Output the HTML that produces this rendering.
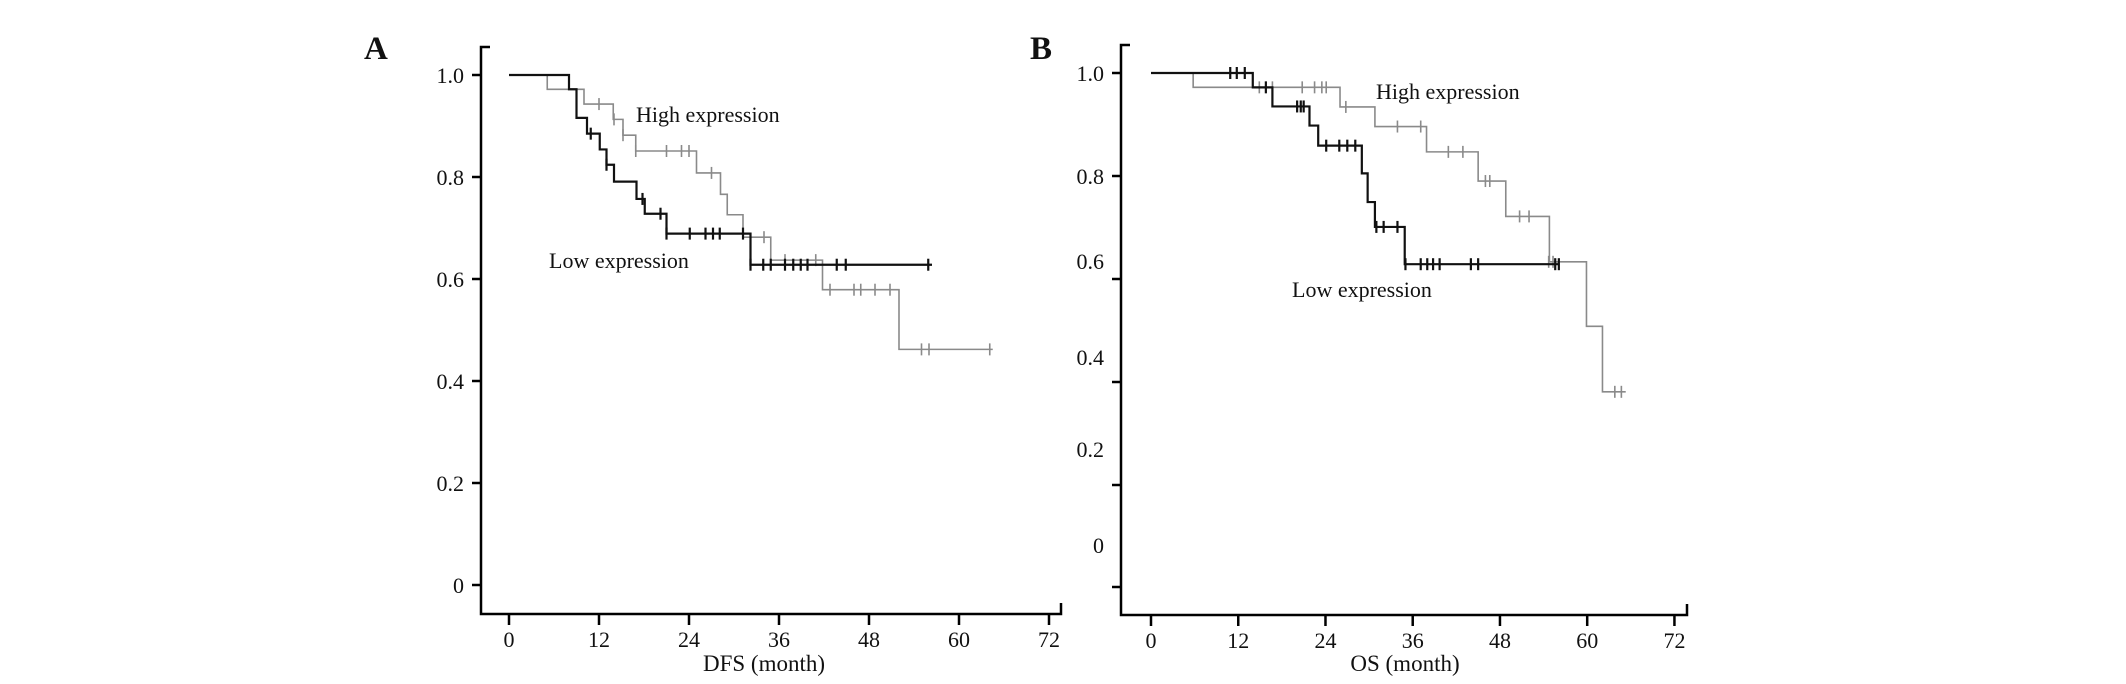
<!DOCTYPE html>
<html><head><meta charset="utf-8"><style>
html,body{margin:0;padding:0;background:#fff;}
svg{display:block;font-family:"Liberation Serif",serif;}
</style></head><body>
<svg id="chart" width="2126" height="684" viewBox="0 0 2126 684"></svg>
<script>
// ---- Panel A (DFS) data ----
const xTicks = [0,12,24,36,48,60,72];
const aYTicks = ["1.0","0.8","0.6","0.4","0.2","0"];
const aHighT = [0,5.1,10,13.9,15.2,16.9,25,28.2,29.1,31.2,34.9,41.8,52,64.5];
const aHighS = [1,0.972,0.943,0.913,0.882,0.851,0.808,0.766,0.726,0.682,0.637,0.579,0.462,0.462];
const aHighCensT = [12,14,15.2,16.9,21,23,24,27,34,36.8,40.9,42.8,46,46.9,48.8,50.8,55,56,64.1];
const aHighCensS = [0.943,0.913,0.882,0.851,0.851,0.851,0.851,0.808,0.682,0.637,0.637,0.579,0.579,0.579,0.579,0.579,0.462,0.462,0.462];
const aLowT = [0,8,9,10.4,12.1,13,14,17,18.1,21,32.2,56.4];
const aLowS = [1,0.972,0.916,0.885,0.854,0.824,0.791,0.757,0.728,0.689,0.628,0.628];
const aLowCensT = [10.9,13,17.8,20.2,21,24.1,26.2,27.2,28.1,31.2,32.2,33.9,34.9,36.8,37.9,38.9,39.8,43.7,44.9,55.9];
const aLowCensS = [0.885,0.824,0.757,0.728,0.689,0.689,0.689,0.689,0.689,0.689,0.628,0.628,0.628,0.628,0.628,0.628,0.628,0.628,0.628,0.628];
// ---- Panel B (OS) data ----
const bYTicks = ["1.0","0.8","0.6","0.4","0.2","0"];
const bHighT = [0,5.8,26,30.8,37.9,45,48.8,54.8,59.9,62.1,65.3];
const bHighS = [1,0.97,0.929,0.888,0.835,0.774,0.70,0.605,0.47,0.333,0.333];
const bHighCensT = [14.9,16.7,20.8,22.5,23.5,24.1,26.8,33.9,37.1,40.9,42.9,46,46.6,50.7,52,54.7,55.3,63.8,64.7];
const bHighCensS = [0.97,0.97,0.97,0.97,0.97,0.97,0.929,0.888,0.888,0.835,0.835,0.774,0.774,0.70,0.70,0.605,0.605,0.333,0.333];
const bLowT = [0,14,16.7,21.8,23,29,29.8,30.8,34.9,56.2];
const bLowS = [1,0.97,0.93,0.89,0.848,0.79,0.73,0.678,0.6,0.6];
const bLowCensT = [10.9,11.8,12.9,15.8,20.1,20.6,21,24.1,25.9,27,28.1,31,32,33.9,35,37.1,38,38.8,39.7,44,45,55.6,56.1];
const bLowCensS = [1,1,1,0.97,0.93,0.93,0.93,0.848,0.848,0.848,0.848,0.678,0.678,0.678,0.6,0.6,0.6,0.6,0.6,0.6,0.6,0.6,0.6];

const NS='http://www.w3.org/2000/svg';
const svg=document.getElementById('chart');
function mk(tag,attrs,parent){const e=document.createElementNS(NS,tag);for(const k in attrs)e.setAttribute(k,attrs[k]);(parent||svg).appendChild(e);return e;}
function txt(s,x,y,size,anchor,weight,parent){const t=mk('text',{x:x,y:y,'font-size':size,'text-anchor':anchor,'font-weight':weight||'normal',fill:'#111'},parent);t.textContent=s;return t;}

function panel(cfg){
  const g=mk('g',{});
  
  
  const X=m=>cfg.x0+m*cfg.xu;
  const Y=v=>cfg.y1+(1-v)*cfg.yu;
  const ax=mk('path',{d:`M${cfg.ax+9} ${cfg.top}H${cfg.ax}V${cfg.bot}H${cfg.right}V${cfg.bot-11}`,fill:'none',stroke:'#000','stroke-width':2.5},g);
  
  
  xTicks.forEach(t=>{
    mk('line',{x1:X(t),x2:X(t),y1:cfg.bot,y2:cfg.bot+11,stroke:'#000','stroke-width':2.5},g);
    const l=txt(String(t),X(t),cfg.bot+33,22,'middle','normal',g);
    
    
  });
  cfg.yTickPos.forEach(p=>mk('line',{x1:cfg.ax-9,x2:cfg.ax,y1:p,y2:p,stroke:'#000','stroke-width':2.5},g));
  cfg.yLabels.forEach((s,i)=>{
    const l=txt(s,cfg.ax-17,cfg.yLabelPos[i]+8,22,'end','normal',g);
    
    
  });
  function series(T,S,CT,CS,color,w,name){
    let d=`M${X(T[0])} ${Y(S[0])}`;
    for(let i=1;i<T.length;i++){d+=`H${X(T[i])}V${Y(S[i])}`;}
    const p=mk('path',{d:d,fill:'none',stroke:color,'stroke-width':w},g);
    
    
    CT.forEach((t,i)=>{
      const c=mk('line',{x1:X(t),x2:X(t),y1:Y(CS[i])-6,y2:Y(CS[i])+6,stroke:color,'stroke-width':w},g);
      
      
    });
  }
  series(cfg.hT,cfg.hS,cfg.hCT,cfg.hCS,'#8a8a8a',1.6,'high-expression');
  series(cfg.lT,cfg.lS,cfg.lCT,cfg.lCS,'#111',2.2,'low-expression');
  const pl=txt(cfg.letter,cfg.letterX,59,33,'start','bold',g);
  
  
  const hl=txt('High expression',cfg.hiX,cfg.hiY,22,'start','normal',g);
  
  
  const ll=txt('Low expression',cfg.loX,cfg.loY,22,'start','normal',g);
  
  
  const xt=txt(cfg.xTitle,cfg.xTitleX,671,23,'middle','normal',g);
  
  
}

panel({name:'panel-a-dfs',x0:509,xu:7.5,y1:75,yu:510,ax:481,top:47,bot:614,right:1061,
  yTickPos:[75,177,279,381,483,585],yLabelPos:[75,177,279,381,483,585],yLabels:aYTicks,
  hT:aHighT,hS:aHighS,hCT:aHighCensT,hCS:aHighCensS,lT:aLowT,lS:aLowS,lCT:aLowCensT,lCS:aLowCensS,
  letter:'A',letterX:364,hiX:636,hiY:122,loX:549,loY:268,xTitle:'DFS (month)',xTitleX:764});
panel({name:'panel-b-os',x0:1151,xu:7.27,y1:73,yu:478,ax:1121,top:45,bot:615,right:1687,
  yTickPos:[73,176,279,382,485,587],yLabelPos:[73,176,261,357,449,545],yLabels:bYTicks,
  hT:bHighT,hS:bHighS,hCT:bHighCensT,hCS:bHighCensS,lT:bLowT,lS:bLowS,lCT:bLowCensT,lCS:bLowCensS,
  letter:'B',letterX:1030,hiX:1376,hiY:99,loX:1292,loY:297,xTitle:'OS (month)',xTitleX:1405});
</script>
</body></html>
